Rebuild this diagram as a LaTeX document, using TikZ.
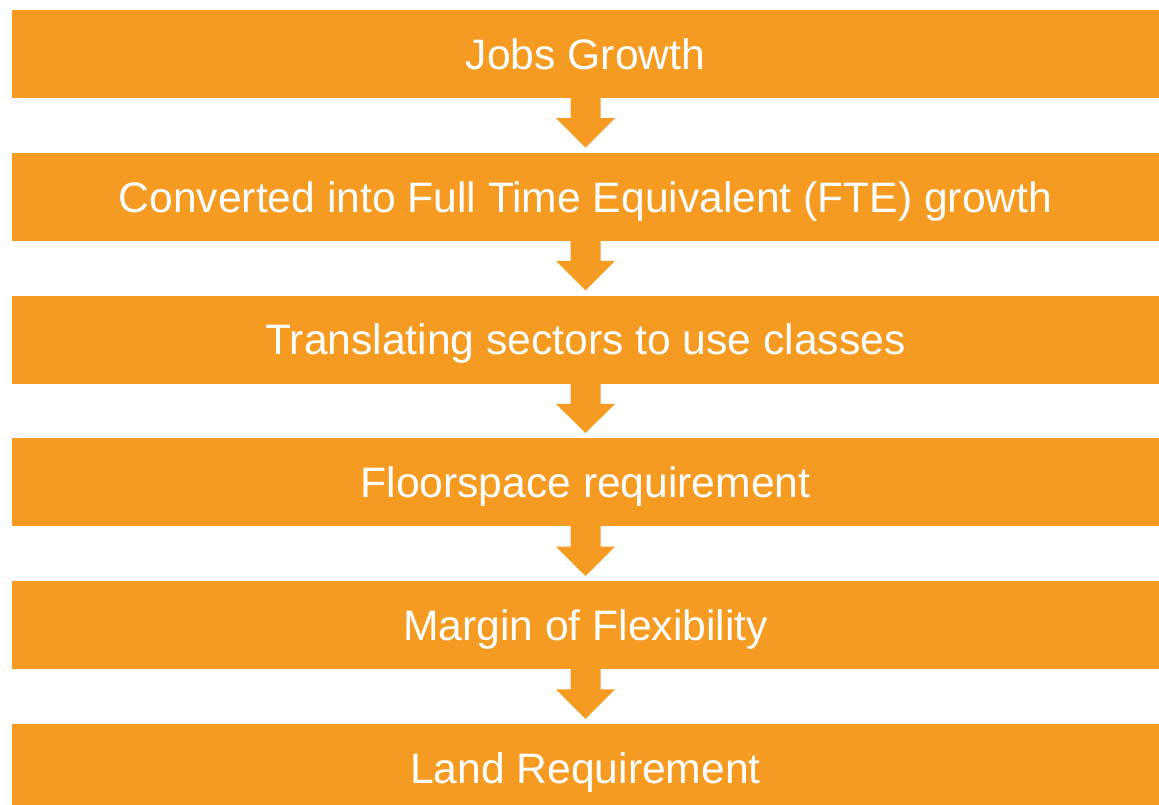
\documentclass[tikz,border=0pt]{standalone}
\usepackage{fontspec}
\setmainfont{Liberation Sans}
\usetikzlibrary{calc}
\definecolor{fc}{RGB}{245,155,33}
\tikzset{
  stage/.style={fill=fc, text=white, minimum width=1147pt, minimum height=88pt, inner sep=0pt,
    text height=30.5pt, text depth=0pt,
    font=\fontsize{42.6pt}{48pt}\selectfont, anchor=center},
}
\begin{document}
\begin{tikzpicture}[x=1pt,y=1pt]
\useasboundingbox (0,0) rectangle (1159,805);
\begin{scope}
\clip (0,0) rectangle (1159,805);
\node[stage] (b1) at (585.5,751) {Jobs Growth};
\node[stage] (b2) at (585.5,608.2) {Converted into Full Time Equivalent (FTE) growth};
\node[stage] (b3) at (585.5,465.4) {Translating sectors to use classes};
\node[stage] (b4) at (585.5,322.6) {Floorspace requirement};
\node[stage] (b5) at (585.5,179.8) {Margin of Flexibility};
\node[stage] (b6) at (585.5,37) {Land Requirement};
\foreach \a/\b in {b1/b2,b2/b3,b3/b4,b4/b5,b5/b6}{
  \fill[fc] ($(\a.south)+(-15,1)$) -- ($(\a.south)+(-15,-20)$) -- ($(\a.south)+(-29.5,-20)$)
    -- ($(\b.north)+(0,5)$) -- ($(\a.south)+(29.5,-20)$) -- ($(\a.south)+(15,-20)$)
    -- ($(\a.south)+(15,1)$) -- cycle;
}
\end{scope}
\end{tikzpicture}
\end{document}
